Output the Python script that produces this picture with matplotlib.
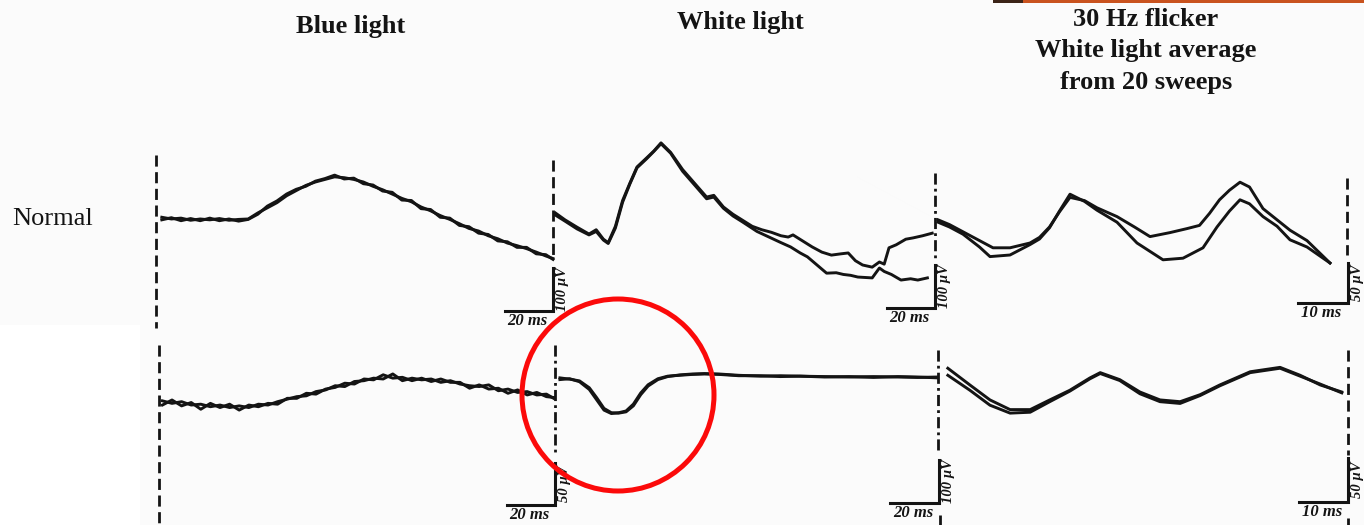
import matplotlib
matplotlib.use("Agg")
import matplotlib.pyplot as plt
from matplotlib.patches import Circle, Rectangle

W, H = 1364, 525

# ---------------- data ----------------
col_titles = ["Blue light", "White light",
              "30 Hz flicker", "White light average", "from 20 sweeps"]
row_label = "Normal"

# scale bars (ms, µV) per panel
time_bars = [[20, 20, 10], [20, 20, 10]]
amp_bars = [[100, 100, 50], [50, 100, 50]]

# Row 1 (Normal) -- Blue light
n_blue_t = [2, 6, 10, 14, 18, 22, 26, 30, 34, 38, 42, 46, 50, 54, 58, 62, 66, 70,
            74, 78, 82, 86, 90, 94, 98, 102, 106, 110, 114, 118, 122, 126, 130,
            134, 138, 142, 146, 150, 154, 158, 162, 165]
n_blue_a = [218, 214, 216, 211, 214, 212, 215, 211, 213, 214, 228, 240, 252, 268,
            280, 292, 300, 306, 312, 310, 306, 300, 290, 282, 272, 262, 254, 242,
            233, 222, 213, 203, 192, 186, 175, 168, 158, 152, 145, 137, 128, 122]
n_blue_b = [212, 217, 210, 215, 210, 216, 210, 214, 209, 213, 225, 244, 256, 272,
            283, 290, 302, 308, 316, 307, 309, 296, 293, 279, 276, 258, 257, 238,
            236, 218, 216, 199, 196, 181, 178, 163, 161, 148, 148, 133, 131, 120]

# Row 1 (Normal) -- White light
n_white_ta = [1, 5, 10, 15, 18, 21, 23, 26, 29, 32, 35, 39, 42, 45, 49, 54, 59, 64,
              67, 71, 75, 79, 83, 87, 91, 95, 98, 100, 104, 108, 112, 116, 120,
              123, 126, 129, 133, 136, 138, 140, 143, 147, 150, 154, 158]
n_white_a = [221, 205, 188, 172, 182, 160, 152, 190, 250, 290, 328, 349, 365, 384,
             362, 322, 290, 258, 262, 235, 218, 204, 190, 182, 176, 168, 165, 170,
             156, 142, 130, 123, 126, 128, 110, 100, 95, 107, 102, 140, 147, 160,
             163, 168, 174]
n_white_tb = [1, 5, 10, 15, 18, 21, 23, 26, 29, 32, 35, 39, 42, 45, 49, 54, 59, 64,
              67, 71, 75, 79, 85, 90, 95, 99, 103, 106, 110, 114, 118, 121, 124,
              127, 130, 133, 136, 138, 141, 145, 149, 152, 156]
n_white_b = [216, 202, 184, 170, 178, 158, 150, 186, 246, 288, 326, 347, 364, 382,
             360, 318, 286, 254, 258, 232, 214, 200, 178, 165, 152, 142, 128, 119,
             100, 81, 82, 78, 76, 72, 71, 70, 93, 85, 78, 65, 68, 65, 70]

# Row 1 (Normal) -- 30 Hz flicker
n_flk_ta = [0.2, 2.5, 5.2, 8.5, 11.2, 14.6, 18.6, 20.5, 22.5, 24.5, 26.6, 29.5, 32,
            36, 39.5, 42.6, 46.6, 50, 52.5, 54.5, 56.5, 58.5, 60.6, 62.5, 65.2,
            68, 70.6, 74, 78.6]
n_flk_a = [104, 98, 89, 78, 69, 69, 75, 82, 95, 114, 132, 128, 119, 108, 95, 83,
           88, 93, 97, 112, 129, 141, 151, 145, 118, 104, 91, 78, 50]
n_flk_tb = [0.2, 2.5, 5.2, 8.5, 10.6, 14.6, 18.6, 20.5, 22.5, 24.5, 26.6, 29.5, 32,
            36, 40, 45.2, 49.2, 53.2, 56, 58.5, 60.6, 62.5, 65.2, 68, 70.6, 74,
            78.6]
n_flk_b = [101, 95, 86, 70, 58, 60, 73, 80, 94, 115, 136, 127, 116, 101, 75, 54,
           56, 69, 95, 115, 129, 124, 108, 96, 79, 70, 50]

# Row 2 (patient) -- Blue light
p_blue_t = [1, 5, 9, 13, 17, 21, 25, 29, 33, 37, 41, 45, 49, 53, 57, 61, 65, 69,
            73, 77, 81, 85, 89, 93, 97, 101, 105, 109, 113, 117, 121, 125, 129,
            133, 137, 141, 145, 149, 153, 157, 161, 164]
p_blue_a = [124, 121, 123, 119, 120, 117, 119, 116, 118, 116, 120, 119, 123, 126,
            129, 130, 135, 137, 142, 141, 147, 148, 151, 150, 156, 148, 151, 149,
            150, 146, 148, 144, 142, 141, 143, 136, 138, 134, 135, 131, 132, 127]
p_blue_b = [119, 125, 118, 122, 114, 121, 116, 120, 113, 119, 117, 121, 120, 127,
            127, 133, 132, 138, 140, 145, 144, 150, 149, 155, 151, 152, 148, 151,
            147, 150, 146, 146, 139, 143, 138, 139, 133, 137, 131, 134, 129, 128]

# Row 2 (patient) -- White light
p_white_t = [2, 6, 10, 14, 17, 20, 23, 26, 29, 32, 35, 38, 42, 46, 51, 56, 61, 67,
             75, 84, 92, 100, 110, 120, 130, 140, 148, 156]
p_white_a = [291, 288, 284, 268, 245, 220, 210, 209, 212, 226, 252, 272, 287, 294,
             298, 300, 301, 300, 297, 295, 296, 295, 294, 293, 294, 293, 292, 293]
p_white_b = [287, 289, 282, 264, 240, 216, 208, 210, 214, 230, 256, 275, 289, 295,
             297, 299, 300, 299, 296, 296, 294, 295, 293, 294, 292, 294, 293, 291]

# Row 2 (patient) -- 30 Hz flicker
p_flk_t = [1.6, 6.1, 10.2, 14.3, 18.4, 22.4, 26.5, 30.6, 32.7, 36.7, 40.8, 44.9,
           49, 53.1, 57.1, 63.3, 69.4, 73.5, 77.6, 82]
p_flk_a = [152, 133, 116, 105, 105, 116, 127, 141, 147, 139, 125, 116, 114, 122,
           133, 148, 153, 144, 133, 125]
p_flk_b = [144, 127, 110, 101, 102, 114, 126, 140, 146, 138, 123, 114, 112, 121,
           132, 147, 152, 143, 134, 124]

traces = [
    [(n_blue_t, n_blue_a, n_blue_t, n_blue_b),
     (n_white_ta, n_white_a, n_white_tb, n_white_b),
     (n_flk_ta, n_flk_a, n_flk_tb, n_flk_b)],
    [(p_blue_t, p_blue_a, p_blue_t, p_blue_b),
     (p_white_t, p_white_a, p_white_t, p_white_b),
     (p_flk_t, p_flk_a, p_flk_t, p_flk_b)],
]

# ---------------- layout (pixels) ----------------
# x0 (t=0), baseline px (0 µV), px per ms, px per µV, left, right, top, bottom, bar end (ms)
layout = [
    [(157, 311, 2.40, 0.43, 150, 560, 130, 335, 165.0),
     (553, 308, 2.40, 0.43, 550, 945, 130, 335, 159.2),
     (937, 303, 5.00, 0.80, 930, 1364, 150, 335, 82.2)],
    [(160, 505, 2.40, 0.84, 150, 560, 340, 525, 164.6),
     (555, 503, 2.45, 0.43, 550, 945, 340, 525, 156.7),
     (940, 502, 4.90, 0.88, 930, 1364, 340, 525, 83.3)],
]

INK = "#141414"
serif = ["Liberation Serif", "DejaVu Serif"]

fig = plt.figure(figsize=(W / 100, H / 100), dpi=100)
fig.patch.set_facecolor("#fbfbfb")

# background overlay in pixel coordinates
bg = fig.add_axes([0, 0, 1, 1])
bg.set_xlim(0, W)
bg.set_ylim(H, 0)
bg.axis("off")
bg.add_patch(Rectangle((0, 325), 140, 200, color="white", lw=0))
bg.add_patch(Rectangle((993, 0), 30, 3, color="#3b2418", lw=0))
bg.add_patch(Rectangle((1023, 0), 341, 3, color="#c9531f", lw=0))

dash = (0, (4, 2))
dashdot = (0, (4, 1.5, 1, 1.5))
edge_lines = [
    (156, 155, 328, dash), (553, 160, 258, dash), (935, 173, 258, dashdot),
    (1347, 178, 255, dash),
    (159, 345, 525, dash), (555, 345, 455, dashdot), (938, 350, 450, dashdot),
    (1348, 350, 455, dash), (940, 515, 525, dash), (1348, 518, 525, dash),
]
for x, y0, y1, ls in edge_lines:
    bg.plot([x, x], [y0, y1], color=INK, lw=2.0, ls=ls, solid_capstyle="butt")

# titles
bg.text(351, 26, col_titles[0], ha="center", va="center", fontsize=19,
        fontweight="bold", family=serif, color=INK)
bg.text(740, 23, col_titles[1], ha="center", va="center", fontsize=19,
        fontweight="bold", family=serif, color=INK)
for i, yy in enumerate([19, 51, 83]):
    bg.text(1146, yy, col_titles[2 + i], ha="center", va="center", fontsize=19,
            fontweight="bold", family=serif, color=INK)
bg.text(12, 219, row_label, ha="left", va="center", fontsize=19,
        family=serif, color=INK)

# panels
for r in range(2):
    for c in range(3):
        x0, base, pms, puv, left, right, top, bottom, tend = layout[r][c]
        ax = fig.add_axes([left / W, 1 - bottom / H, (right - left) / W,
                           (bottom - top) / H])
        ax.set_xlim((left - x0) / pms, (right - x0) / pms)
        ax.set_ylim((base - bottom) / puv, (base - top) / puv)
        ax.axis("off")
        ax.patch.set_alpha(0)
        ta, va, tb, vb = traces[r][c]
        ax.plot(ta, va, color=INK, lw=2.1, solid_joinstyle="round", clip_on=False)
        ax.plot(tb, vb, color=INK, lw=2.1, solid_joinstyle="round", clip_on=False)
        tb_len = time_bars[r][c]
        ab_len = amp_bars[r][c]
        ax.plot([tend - tb_len, tend, tend], [0, 0, ab_len], color=INK, lw=2.2,
                solid_joinstyle="miter", clip_on=False)
        ax.annotate(f"{tb_len} ms", xy=(tend - tb_len / 2, 0), xytext=(-1, -1.5),
                    textcoords="offset points", ha="center", va="top",
                    fontsize=12, fontweight="bold", fontstyle="italic",
                    family=serif, color=INK)
        ax.annotate(f"{ab_len} µV", xy=(tend, ab_len / 2), xytext=(2.0, 0),
                    textcoords="offset points", ha="left", va="center",
                    rotation=90, fontsize=10.5, fontweight="bold",
                    fontstyle="italic", family=serif, color=INK,
                    annotation_clip=False)

# red highlight circle
top = fig.add_axes([0, 0, 1, 1])
top.set_xlim(0, W)
top.set_ylim(H, 0)
top.axis("off")
top.patch.set_alpha(0)
top.add_patch(Circle((618, 395), 96, fill=False, ec="#fb0a0a", lw=3.6))

fig.savefig("out.png", dpi=100, facecolor=fig.get_facecolor())
